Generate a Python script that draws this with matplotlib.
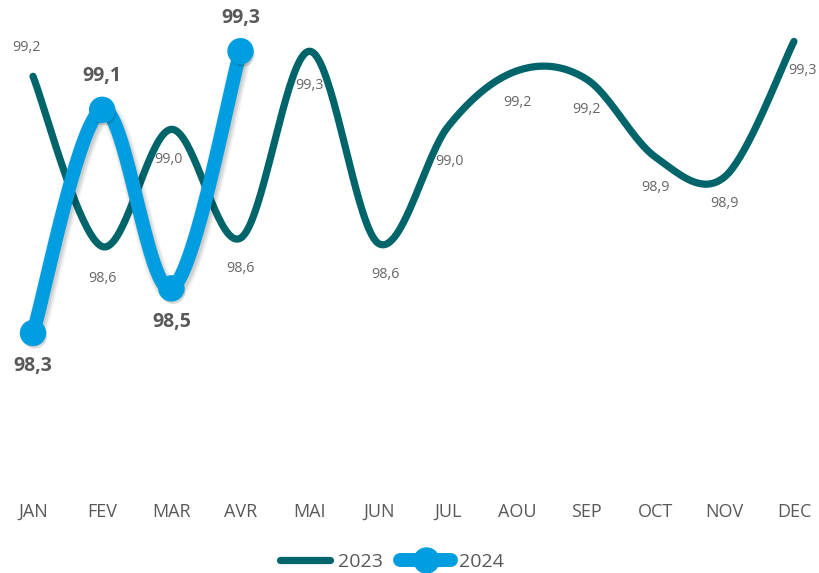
import numpy as np
import matplotlib
matplotlib.use("Agg")
import matplotlib.pyplot as plt
import matplotlib.patheffects as pe
from matplotlib.lines import Line2D

plt.rcParams['font.family'] = ['Open Sans', 'DejaVu Sans']

months = ["JAN", "FEV", "MAR", "AVR", "MAI", "JUN", "JUL", "AOU", "SEP", "OCT", "NOV", "DEC"]
values_2023 = [99.22, 98.61, 99.03, 98.64, 99.31, 98.62, 99.04, 99.24, 99.21, 98.93, 98.86, 99.345]
values_2024 = [98.30, 99.10, 98.46, 99.31]

# offset of each value label, in points (negative dy = below the point)
label_dy_2023 = [21, -23, -22, -22, -25, -22, -25, -23, -22, -22, -19, -21]
label_dx_2023 = [-5, 0, -2, 0, 0, 5, 1, 0, 0, 0, 0, 6]
label_dy_2024 = [-24, 24, -24, 24]

COL_23 = "#00656B"
COL_24 = "#009EE0"
TXT = "#595959"


def smooth(y, n=40):
    """Catmull-Rom style Bezier smoothing (control points at 1/6 of neighbour span)."""
    x = np.arange(len(y), dtype=float)
    y = np.asarray(y, dtype=float)
    pts = np.column_stack([x, y])
    ext = np.vstack([pts[0], pts, pts[-1]])
    out = []
    for i in range(len(pts) - 1):
        p0, p1, p2, p3 = ext[i], ext[i + 1], ext[i + 2], ext[i + 3]
        c1 = p1 + (p2 - p0) / 6.0
        c2 = p2 - (p3 - p1) / 6.0
        t = np.linspace(0, 1, n, endpoint=(i == len(pts) - 2))[:, None]
        seg = ((1 - t) ** 3) * p1 + 3 * ((1 - t) ** 2) * t * c1 + 3 * (1 - t) * t ** 2 * c2 + t ** 3 * p2
        out.append(seg)
    out = np.vstack(out)
    return out[:, 0], out[:, 1]


fig = plt.figure(figsize=(8.19, 5.73), dpi=100)
ax = fig.add_axes([0, 1 - 495 / 573, 1, 495 / 573])
ax.set_xlim(-0.477, 11.362)
ax.set_ylim(98.3 - 162 / 279, 98.3 + 333 / 279)
ax.axis("off")

x23, y23 = smooth(values_2023)
ax.plot(x23, y23, color=COL_23, lw=5.2, solid_capstyle="round", zorder=2)

# soft drop shadow under the 2024 series
line_shadow = [
    pe.SimpleLineShadow(offset=(1.2, -2.2), shadow_color="black", alpha=0.05, linewidth=15),
    pe.SimpleLineShadow(offset=(1.2, -2.2), shadow_color="black", alpha=0.07, linewidth=12.5),
    pe.SimpleLineShadow(offset=(1.2, -2.2), shadow_color="black", alpha=0.08, linewidth=10),
    pe.Normal(),
]
mark_shadow = [
    pe.SimplePatchShadow(offset=(1.2, -2.2), shadow_rgbFace="black", alpha=0.15),
    pe.Normal(),
]

x24, y24 = smooth(values_2024)
ax.plot(x24, y24, color=COL_24, lw=10, solid_capstyle="round", zorder=3, path_effects=line_shadow)
ax.plot(np.arange(len(values_2024)), values_2024, "o", color=COL_24, ms=18, mec=COL_24,
        zorder=4, path_effects=mark_shadow)

for i, v in enumerate(values_2023):
    ax.annotate(f"{v:.1f}".replace(".", ","), (i, v), xytext=(label_dx_2023[i], label_dy_2023[i]),
                textcoords="offset points", ha="center", va="center", fontsize=10.3, color="#666666",
                zorder=5)

for i, v in enumerate(values_2024):
    ax.annotate(f"{v:.1f}".replace(".", ","), (i, v), xytext=(0, label_dy_2024[i]),
                textcoords="offset points", ha="center", va="center", fontsize=14,
                fontweight="bold", color=TXT, zorder=5)

for i, m in enumerate(months):
    ax.text(i, -17 / 495, m, transform=ax.get_xaxis_transform(), ha="center", va="center",
            fontsize=13, color=TXT)

handles = [
    Line2D([], [], color=COL_23, lw=5.2, solid_capstyle="round"),
    Line2D([], [], color=COL_24, lw=10, marker="o", ms=18, solid_capstyle="round"),
]
leg = fig.legend(handles, ["2023", "2024"], loc="center", bbox_to_anchor=(0.478, 1 - 562 / 573),
                 ncol=2, frameon=False, fontsize=14, handlelength=2.6, handletextpad=0.4,
                 columnspacing=0.9, labelcolor=TXT)

fig.savefig("out.png", dpi=100, facecolor="white")
